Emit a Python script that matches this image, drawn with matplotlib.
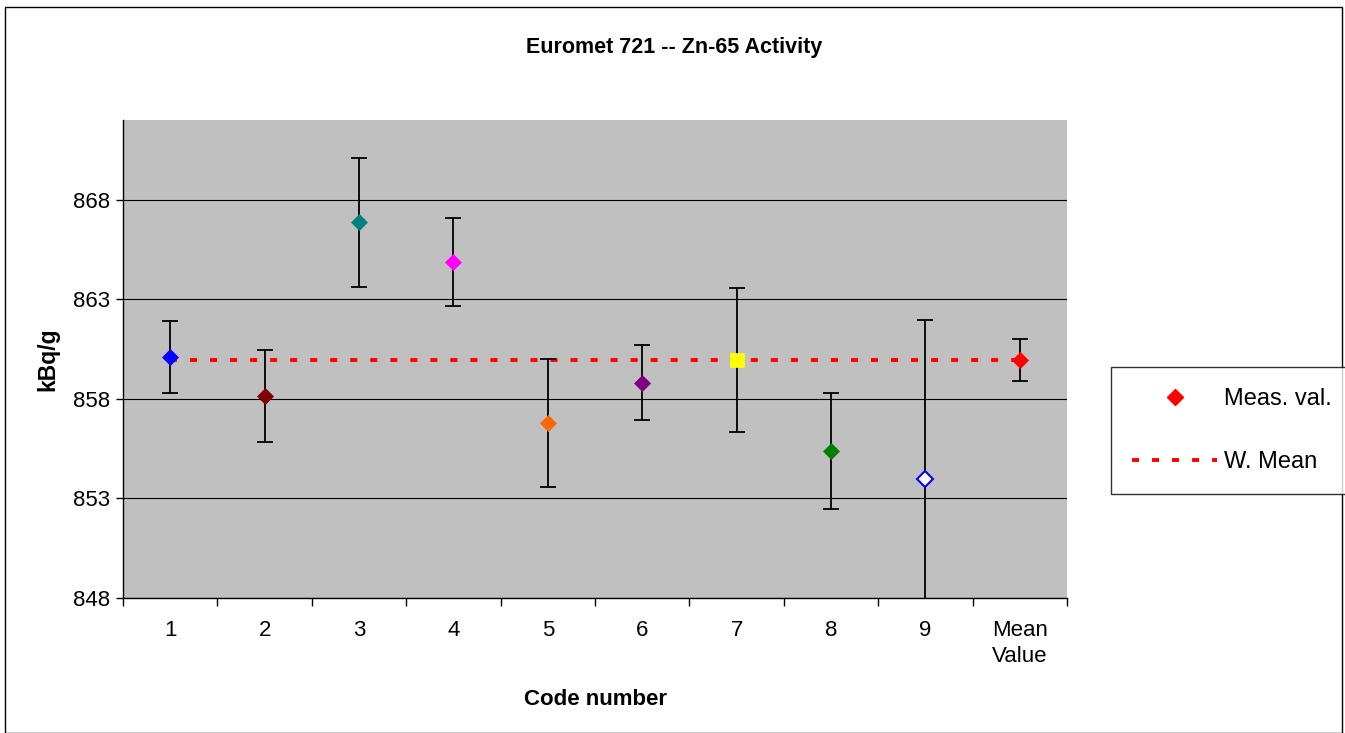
import numpy as np
import matplotlib
matplotlib.use("Agg")
import matplotlib.pyplot as plt
from matplotlib.lines import Line2D
from matplotlib.patches import Rectangle

plt.rcParams['font.family'] = ['Liberation Sans', 'DejaVu Sans']

codes = ['1', '2', '3', '4', '5', '6', '7', '8', '9', 'Mean\nValue']
values = [860.11, 858.15, 866.87, 864.86, 856.78, 858.82, 859.94, 855.38, 853.97, 859.94]
uncert = [1.80, 2.30, 3.24, 2.20, 3.20, 1.87, 3.63, 2.90, 8.00, 1.06]
face_colors = ['#0000FF', '#800000', '#008080', '#FF00FF', '#FF6600',
               '#800080', '#FFFF00', '#008000', '#FFFFFF', '#FF0000']
edge_colors = ['#0000FF', '#800000', '#008080', '#FF00FF', '#FF6600',
               '#800080', '#FFFF00', '#008000', '#0000FF', '#FF0000']
markers = ['D', 'D', 'D', 'D', 'D', 'D', 's', 'D', 'D', 'D']
w_mean = 859.94

fig = plt.figure(figsize=(13.45, 7.33), dpi=100)
ax = fig.add_axes([123 / 1345, 1 - 598 / 733, 944 / 1345, 478 / 733])
ax.set_facecolor('#C0C0C0')

x = np.arange(len(codes))

# weighted mean line
mean_dash = (1.8, 3.35)
ax.plot([x[0], x[-1]], [w_mean, w_mean], color='#FF0000', lw=2.8,
        dashes=mean_dash, zorder=2)

for i in range(len(codes)):
    ax.errorbar(x[i], values[i], yerr=uncert[i], fmt='none', ecolor='black',
                elinewidth=1.3, capsize=6, capthick=1.3, zorder=3)
    ms = 10 if markers[i] == 's' else 8
    mew = 1.5 if i == 8 else 0.5
    ax.plot(x[i], values[i], marker=markers[i], ms=ms, mfc=face_colors[i],
            mec=edge_colors[i], mew=mew, ls='none', zorder=4)

ax.set_xlim(-0.5, len(codes) - 0.5)
ax.set_ylim(848, 872)
ax.set_yticks([848, 853, 858, 863, 868])
ax.yaxis.grid(True, color='black', lw=0.8)
ax.set_axisbelow(True)

ax.set_xticks(x)
ax.set_xticklabels(codes, linespacing=1.3)
ax.set_xticks(np.arange(-0.5, len(codes)), minor=True)
ax.tick_params(axis='x', which='major', length=0, pad=16, labelsize=16)
ax.tick_params(axis='x', which='minor', length=6, width=1)
ax.tick_params(axis='y', length=5, width=1, labelsize=16, pad=4)

for s in ['top', 'right']:
    ax.spines[s].set_visible(False)
ax.spines['left'].set_linewidth(1)
ax.spines['bottom'].set_linewidth(1)

ax.set_xlabel('Code number', fontsize=16, fontweight='bold', labelpad=16)
ax.set_ylabel('kBq/g', fontsize=16.5, fontweight='bold', labelpad=10)
fig.text(674 / 1345, 1 - 47.5 / 733, 'Euromet 721 -- Zn-65 Activity',
         ha='center', va='center', fontsize=15.5, fontweight='bold')

# figure frame
fig.patches.append(Rectangle((5 / 1345, 0), 1337 / 1345, 1 - 7 / 733,
                             transform=fig.transFigure, fill=False,
                             ec='black', lw=1))

handles = [Line2D([], [], marker='D', color='#FF0000', ls='none', ms=8),
           Line2D([], [], color='#FF0000', lw=2.8, dashes=mean_dash)]
leg = fig.legend(handles, ['Meas. val.', 'W. Mean'],
                 loc='upper left', bbox_to_anchor=(1111 / 1345, 1 - 367 / 733),
                 fontsize=17, frameon=True, fancybox=False, handlelength=3.6,
                 labelspacing=1.72, borderpad=0.9, handletextpad=0.3,
                 borderaxespad=0)
leg.get_frame().set_edgecolor('black')
leg.get_frame().set_linewidth(1)

fig.savefig('out.png', dpi=100)
